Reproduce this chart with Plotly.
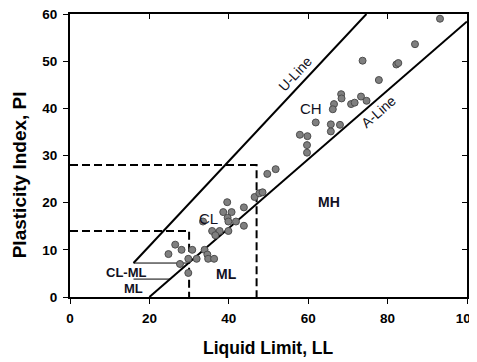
import plotly.graph_objects as go

# Data (Liquid Limit, Plasticity Index)
ll = [93.2, 86.9, 73.7, 82.2, 82.7, 77.8, 68.3, 68.4, 73.3, 74.7, 70.8, 71.7, 66.5, 66.2,
      61.9, 65.7, 68.0, 65.7, 57.9, 59.8, 59.7, 59.7, 49.7, 51.8, 46.5, 47.7, 48.5,
      39.6, 38.6, 40.7, 43.8, 33.5, 39.7, 39.9, 41.8, 43.8, 35.8, 37.7, 36.6, 39.9,
      26.5, 28.1, 24.8, 30.8, 33.9, 34.6, 31.9, 29.8, 34.8, 36.3, 27.7, 29.8]
pi = [59.0, 53.6, 50.1, 49.3, 49.6, 46.0, 43.0, 42.1, 42.5, 41.6, 40.9, 41.2, 40.9, 39.8,
      37.0, 36.6, 36.5, 35.1, 34.4, 34.1, 32.2, 30.6, 26.1, 27.1, 21.2, 22.0, 22.2,
      20.1, 18.0, 18.0, 19.0, 16.0, 16.8, 16.0, 16.0, 15.1, 14.0, 14.0, 13.1, 14.0,
      11.1, 10.0, 9.1, 10.0, 10.0, 9.0, 8.1, 8.1, 8.1, 8.1, 7.0, 5.1]

u_line_ll = [16, 74.67]
u_line_pi = [7.2, 60]
a_line_ll = [20, 100]
a_line_pi = [0, 58.4]
clml_top_ll = [16, 29.6]
clml_top_pi = [7.2, 7.2]
clml_bot_ll = [16, 25.3]
clml_bot_pi = [3.8, 3.8]
box1_ll = [0, 30, 30]
box1_pi = [14, 14, 0]
box2_ll = [0, 47, 47]
box2_pi = [28, 28, 0]

x_ticks = [0, 20, 40, 60, 80, 100]
y_ticks = [0, 10, 20, 30, 40, 50, 60]

zone_labels = ["U-Line", "A-Line", "CH", "CL", "MH", "ML", "CL-ML", "ML"]
zone_x = [56.7, 77.6, 60.8, 34.8, 65.2, 39.5, 14.1, 15.9]
zone_y = [47.2, 39.3, 40.0, 16.6, 20.2, 4.9, 5.3, 1.9]

x_title = "Liquid Limit, LL"
y_title = "Plasticity Index, PI"

FONT = "Liberation Sans, Arial, sans-serif"

fig = go.Figure()
solid = dict(color="black", width=2)
fig.add_trace(go.Scatter(x=u_line_ll, y=u_line_pi, mode="lines", line=solid, hoverinfo="skip"))
fig.add_trace(go.Scatter(x=a_line_ll, y=a_line_pi, mode="lines", line=solid, hoverinfo="skip"))
fig.add_trace(go.Scatter(x=clml_top_ll, y=clml_top_pi, mode="lines", line=dict(color="black", width=1), hoverinfo="skip"))
fig.add_trace(go.Scatter(x=clml_bot_ll, y=clml_bot_pi, mode="lines", line=dict(color="black", width=1), hoverinfo="skip"))
dash = dict(color="black", width=2, dash="8px,4px")
fig.add_trace(go.Scatter(x=box1_ll, y=box1_pi, mode="lines", line=dash, hoverinfo="skip"))
fig.add_trace(go.Scatter(x=box2_ll, y=box2_pi, mode="lines", line=dash, hoverinfo="skip"))
fig.add_trace(go.Scatter(x=ll, y=pi, mode="markers",
                         marker=dict(size=7, color="#7f7f7f", line=dict(color="#4d4d4d", width=1))))
# invisible trace for mirrored inside ticks (top / right)
fig.add_trace(go.Scatter(x=[None], y=[None], xaxis="x2", yaxis="y2", mode="markers",
                         showlegend=False, hoverinfo="skip"))

angles = [-47, -41, 0, 0, 0, 0, 0, 0]
bolds = [False, False, False, False, True, True, True, True]
sizes = [14, 14, 15, 15, 14, 14, 13, 13]
for t, x, y, a, b, s in zip(zone_labels, zone_x, zone_y, angles, bolds, sizes):
    fig.add_annotation(x=x, y=y, text=f"<b>{t}</b>" if b else t, showarrow=False,
                       textangle=a, font=dict(family=FONT, size=s, color="#111122"))

# axis titles (placed as in the reference)
fig.add_annotation(xref="paper", yref="paper", x=0.5, y=0, yshift=-51, yanchor="middle",
                   text=f"<b>{x_title}</b>", showarrow=False,
                   font=dict(family=FONT, size=17.5, color="black"))
fig.add_annotation(xref="paper", yref="paper", x=0, y=0.43, xshift=-51, xanchor="center",
                   yanchor="middle", textangle=-90, text=f"<b>{y_title}</b>", showarrow=False,
                   font=dict(family=FONT, size=19, color="black"))

axis_common = dict(showgrid=False, zeroline=False, showline=True, mirror=True, linecolor="black",
                   linewidth=2, ticks="outside", ticklen=5, tickwidth=1, tickcolor="black",
                   automargin=False, ticklabeloverflow="allow",
                   tickfont=dict(family=FONT, size=13.5, color="black", weight="bold"))
fig.update_layout(
    width=477, height=362,
    margin=dict(l=62, r=18, t=6, b=73),
    paper_bgcolor="white", plot_bgcolor="white",
    showlegend=False,
    xaxis=dict(range=[0, 100], tickvals=x_ticks, ticklabelstandoff=3, **axis_common),
    yaxis=dict(range=[0, 60], tickvals=y_ticks, ticklabelstandoff=3, **axis_common),
    xaxis2=dict(range=[0, 100], tickvals=x_ticks, overlaying="x", side="top", ticks="inside",
                ticklen=5, tickcolor="black", showticklabels=False, showgrid=False,
                zeroline=False, showline=False, automargin=False),
    yaxis2=dict(range=[0, 60], tickvals=y_ticks, overlaying="y", side="right", ticks="inside",
                ticklen=5, tickcolor="black", showticklabels=False, showgrid=False,
                zeroline=False, showline=False, automargin=False),
)
fig.write_html("out.html")
